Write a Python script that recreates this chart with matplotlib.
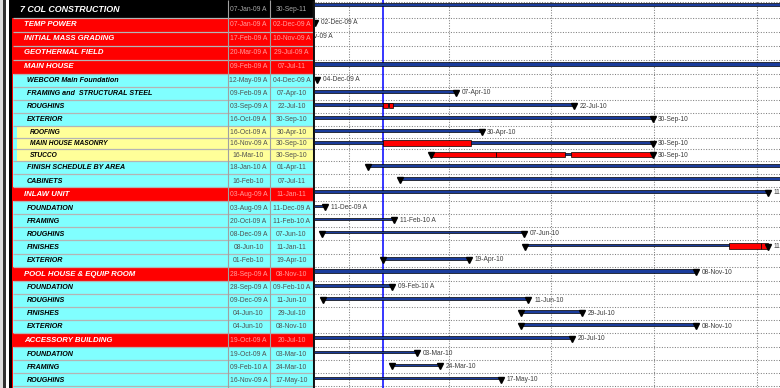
import matplotlib
matplotlib.use('Agg')
import matplotlib.pyplot as plt
import matplotlib.dates as mdates
from matplotlib.patches import Rectangle
from matplotlib.transforms import offset_copy
from datetime import datetime

# ---------------- data ----------------
names = ['7 COL CONSTRUCTION', 'TEMP POWER', 'INITIAL MASS GRADING', 'GEOTHERMAL FIELD',
         'MAIN HOUSE', 'WEBCOR Main Foundation', 'FRAMING and  STRUCTURAL STEEL', 'ROUGHINS',
         'EXTERIOR', 'ROOFING', 'MAIN HOUSE MASONRY', 'STUCCO', 'FINISH SCHEDULE BY AREA',
         'CABINETS', 'INLAW UNIT', 'FOUNDATION', 'FRAMING', 'ROUGHINS', 'FINISHES', 'EXTERIOR',
         'POOL HOUSE & EQUIP ROOM', 'FOUNDATION', 'ROUGHINS', 'FINISHES', 'EXTERIOR',
         'ACCESSORY BUILDING', 'FOUNDATION', 'FRAMING', 'ROUGHINS']
levels = [0, 1, 1, 1, 1, 2, 2, 2, 2, 3, 3, 3, 2, 2, 1, 2, 2, 2, 2, 2, 1, 2, 2, 2, 2, 1, 2, 2, 2]
start_labels = ['07-Jan-09 A', '07-Jan-09 A', '17-Feb-09 A', '20-Mar-09 A', '09-Feb-09 A',
                '12-May-09 A', '09-Feb-09 A', '03-Sep-09 A', '16-Oct-09 A', '16-Oct-09 A',
                '16-Nov-09 A', '16-Mar-10', '18-Jan-10 A', '16-Feb-10', '03-Aug-09 A',
                '03-Aug-09 A', '20-Oct-09 A', '08-Dec-09 A', '08-Jun-10', '01-Feb-10',
                '28-Sep-09 A', '28-Sep-09 A', '09-Dec-09 A', '04-Jun-10', '04-Jun-10',
                '19-Oct-09 A', '19-Oct-09 A', '09-Feb-10 A', '16-Nov-09 A']
finish_labels = ['30-Sep-11', '02-Dec-09 A', '10-Nov-09 A', '29-Jul-09 A', '07-Jul-11',
                 '04-Dec-09 A', '07-Apr-10', '22-Jul-10', '30-Sep-10', '30-Apr-10',
                 '30-Sep-10', '30-Sep-10', '01-Apr-11', '07-Jul-11', '11-Jan-11',
                 '11-Dec-09 A', '11-Feb-10 A', '07-Jun-10', '11-Jan-11', '19-Apr-10',
                 '08-Nov-10', '09-Feb-10 A', '11-Jun-10', '29-Jul-10', '08-Nov-10',
                 '20-Jul-10', '03-Mar-10', '24-Mar-10', '17-May-10']
# critical (red) segments
crit_rows = [7, 7, 10, 11, 11, 11, 18, 18]
crit_starts = ['01-Feb-10', '06-Feb-10', '01-Feb-10', '16-Mar-10', '13-May-10', '19-Jul-10',
               '07-Dec-10', '05-Jan-11']
crit_ends = ['05-Feb-10', '10-Feb-10', '21-Apr-10', '13-May-10', '14-Jul-10', '30-Sep-10',
             '05-Jan-11', '11-Jan-11']
data_date = '01-Feb-10'
view_start = '02-Dec-09'
view_end = '22-Jan-11'


def d(s):
    return mdates.date2num(datetime.strptime(s[:9], '%d-%b-%y'))


# ---------------- layout ----------------
W, H = 780, 388
TABLE_W = 315
row_h = {0: 17.5, 1: 14.0, 2: 13.1, 3: 11.7}
tops = []
yy = 0.0
for lv in levels:
    tops.append(yy)
    yy += row_h[lv]
bottom = yy

FONT = ['Liberation Sans', 'DejaVu Sans']
RED = '#ff0000'
CYAN = '#80ffff'
YEL = '#ffff99'

fig = plt.figure(figsize=(W / 100, H / 100), dpi=100, facecolor='white')

# ---------------- table ----------------
ax_t = fig.add_axes([0, 0, TABLE_W / W, 1])
ax_t.set_xlim(0, TABLE_W)
ax_t.set_ylim(H, 0)
ax_t.axis('off')

ax_t.add_patch(Rectangle((0, 0), 3, H, color='#dcdcdc', lw=0))
ax_t.add_patch(Rectangle((3, 0), 3, H, color='#303030', lw=0))
ax_t.add_patch(Rectangle((6, 0), 3, H, color='white', lw=0))
ax_t.add_patch(Rectangle((9, 0), 2.5, H, color='black', lw=0))
ax_t.add_patch(Rectangle((11.5, 0), 302, H, color=RED, lw=0))

for lv, t in zip(levels, tops):
    h = row_h[lv]
    if lv == 0:
        ax_t.add_patch(Rectangle((9, t), 305, h, color='black', lw=0))
    elif lv >= 2:
        ax_t.add_patch(Rectangle((13.3, t), 300, h, color=CYAN, lw=0))
    if lv == 3:
        ax_t.add_patch(Rectangle((16.7, t), 296.6, h, color=YEL, lw=0))
ax_t.add_patch(Rectangle((13.3, bottom), 300, H - bottom, color=CYAN, lw=0))

# row separators
for lv, t in zip(levels, tops):
    b = t + row_h[lv]
    ax_t.plot([13, 313], [b, b], color='#b4b4b4', lw=0.9, solid_capstyle='butt')

# column separators
ax_t.vlines([227.5, 269.5, 312.5], 0, H, color='#a0a0a0', lw=0.8)
ax_t.vlines([314.2], 0, H, color='black', lw=1.3)

name_fs = {0: 6.4, 1: 5.6, 2: 5.15, 3: 4.8}
name_x = {0: 20.5, 1: 24, 2: 27, 3: 30}
date_col = {0: '#a8a8a8', 1: '#ff9d9d', 2: '#505050', 3: '#505050'}
for i, (lv, t) in enumerate(zip(levels, tops)):
    yc = t + row_h[lv] / 2 + 0.4
    ax_t.text(name_x[lv], yc, names[i], fontsize=name_fs[lv], family=FONT,
              fontweight='bold', fontstyle='italic',
              color='white' if lv <= 1 else 'black', va='center', ha='left')
    ax_t.text(248.5, yc, start_labels[i], fontsize=4.9, family=FONT,
              color=date_col[lv], va='center', ha='center')
    ax_t.text(291.5, yc, finish_labels[i], fontsize=4.9, family=FONT,
              color=date_col[lv], va='center', ha='center')

# ---------------- gantt ----------------
ax_g = fig.add_axes([TABLE_W / W, 0, 1 - TABLE_W / W, 1])
x0, x1 = d(view_start), d(view_end)
ax_g.set_xlim(x0, x1)
ax_g.set_ylim(H, 0)
for sp in ax_g.spines.values():
    sp.set_visible(False)
ax_g.xaxis.set_major_locator(mdates.MonthLocator(bymonth=[1, 4, 7, 10]))
ax_g.set_yticks([])
ax_g.tick_params(length=0, labelbottom=False, labelleft=False)
ax_g.grid(axis='x', color='#808080', lw=0.75, ls=(0, (1, 1.5)))
ax_g.set_axisbelow(True)

for b in [1.5] + [t + row_h[lv] for lv, t in zip(levels, tops)]:
    ax_g.axhline(b, color='#808080', lw=0.75, ls=(0, (1, 1.5)), zorder=1)

ax_g.axvline(d(data_date), color='#0000ff', lw=1.1, zorder=1.5)

lab_tr = offset_copy(ax_g.transData, fig=fig, x=4.0, y=0, units='points')
for i, (lv, t) in enumerate(zip(levels, tops)):
    s = d(start_labels[i])
    f = d(finish_labels[i])
    if lv <= 1:
        by, bh = t + 2.6, 3.4
    else:
        by, bh = t + 3.4, 2.6
    ax_g.add_patch(Rectangle((s, by), f - s, bh, facecolor='#1a3c9c',
                             edgecolor='black', lw=0.5, zorder=3))
    ax_g.plot([f], [by + 2.8], marker='v', ms=4, color='black', zorder=5)
    if lv >= 2:
        ax_g.plot([s], [by + 2.8], marker='v', ms=4, color='black', zorder=5)
    # only labels that can fall at least partly inside the visible window
    if x0 - 40 < f < x1:
        ax_g.text(f, by + 2.9, finish_labels[i], transform=lab_tr, fontsize=4.8,
                  family=FONT, color='#3c3c3c', va='center', ha='left',
                  clip_on=True, zorder=6)

for r, cs, ce in zip(crit_rows, crit_starts, crit_ends):
    t = tops[r]
    ax_g.add_patch(Rectangle((d(cs), t + 2.8), d(ce) - d(cs), 5.4, facecolor=RED,
                             edgecolor='black', lw=0.5, zorder=4))

fig.savefig('out.png', dpi=100, facecolor='white')
